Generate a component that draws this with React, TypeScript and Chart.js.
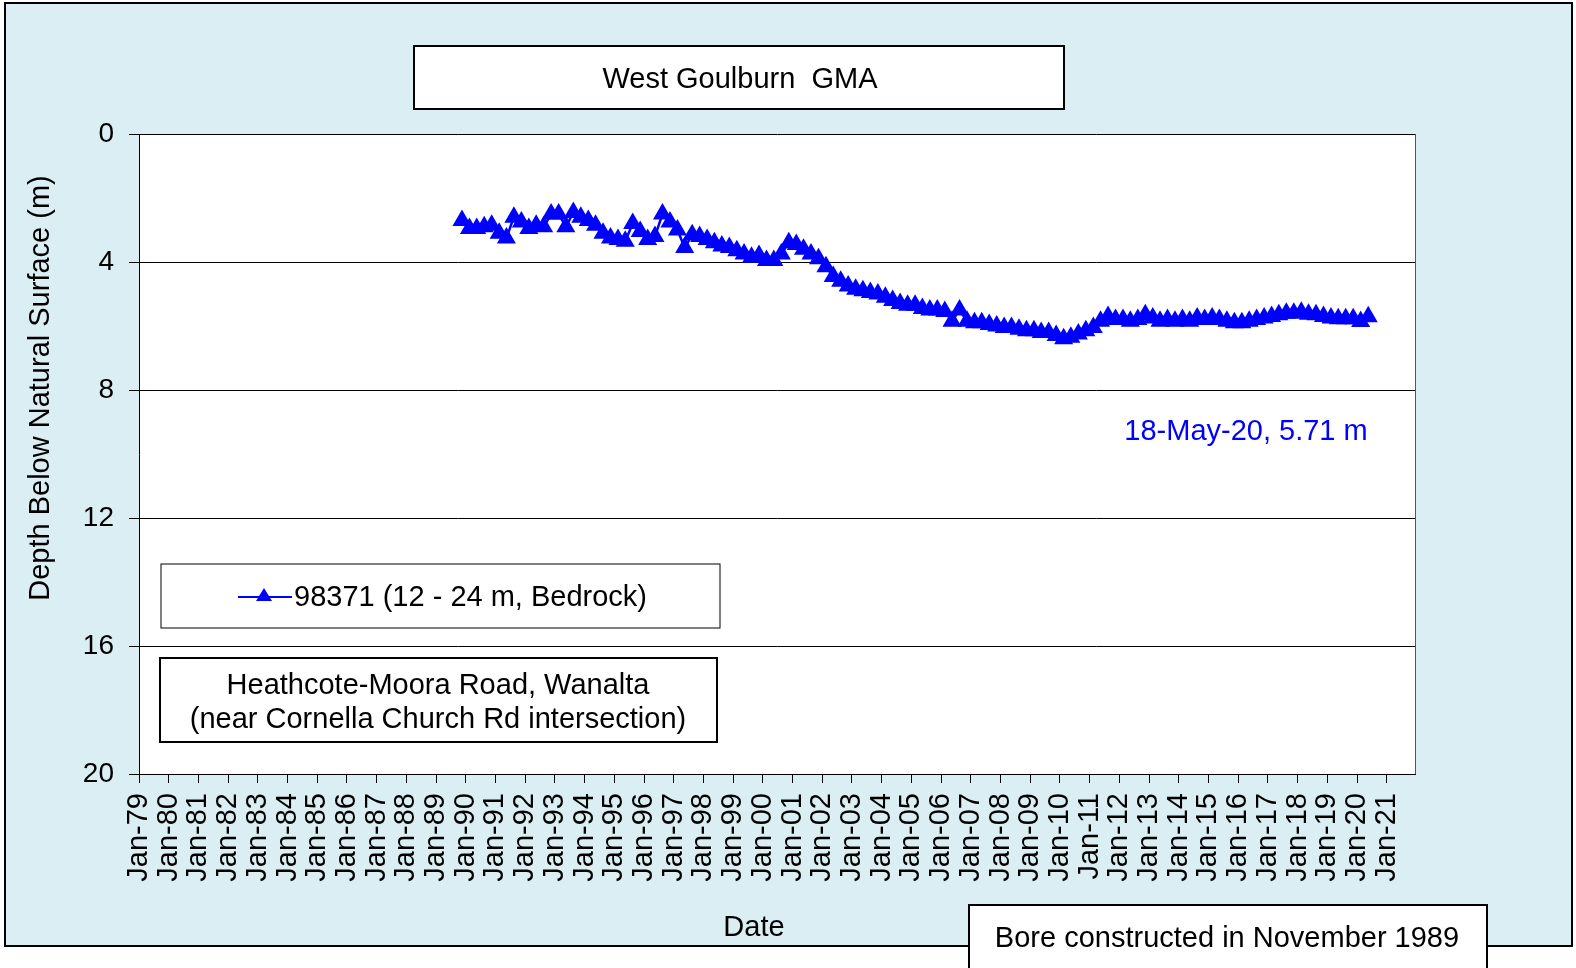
import React, { useEffect, useRef } from "react";
import { Chart, registerables } from "chart.js";

Chart.register(...registerables);

// ---- Data ----
const sampleDates: string[] = [
  "1989-11-15", "1990-02-15", "1990-05-15", "1990-08-15", "1990-11-15",
  "1991-02-15", "1991-05-15", "1991-08-15", "1991-11-15",
  "1992-02-15", "1992-05-15", "1992-08-15", "1992-11-15",
  "1993-02-15", "1993-05-15", "1993-08-15", "1993-11-15",
  "1994-02-15", "1994-05-15", "1994-08-15", "1994-11-15",
  "1995-02-15", "1995-05-15", "1995-08-15", "1995-11-15",
  "1996-02-15", "1996-05-15", "1996-08-15", "1996-11-15",
  "1997-02-15", "1997-05-15", "1997-08-15", "1997-11-15",
  "1998-02-15", "1998-05-15", "1998-08-15", "1998-11-15",
  "1999-02-15", "1999-05-15", "1999-08-15", "1999-11-15",
  "2000-02-15", "2000-05-15", "2000-08-15", "2000-11-15",
  "2001-02-15", "2001-05-15", "2001-08-15", "2001-11-15",
  "2002-02-15", "2002-05-15", "2002-08-15", "2002-11-15",
  "2003-02-15", "2003-05-15", "2003-08-15", "2003-11-15",
  "2004-02-15", "2004-05-15", "2004-08-15", "2004-11-15",
  "2005-02-15", "2005-05-15", "2005-08-15", "2005-11-15",
  "2006-02-15", "2006-05-15", "2006-08-15", "2006-11-15",
  "2007-02-15", "2007-05-15", "2007-08-15", "2007-11-15",
  "2008-02-15", "2008-05-15", "2008-08-15", "2008-11-15",
  "2009-02-15", "2009-05-15", "2009-08-15", "2009-11-15",
  "2010-02-15", "2010-05-15", "2010-08-15", "2010-11-15",
  "2011-02-15", "2011-05-15", "2011-08-15", "2011-11-15",
  "2012-02-15", "2012-05-15", "2012-08-15", "2012-11-15",
  "2013-02-15", "2013-05-15", "2013-08-15", "2013-11-15",
  "2014-02-15", "2014-05-15", "2014-08-15", "2014-11-15",
  "2015-02-15", "2015-05-15", "2015-08-15", "2015-11-15",
  "2016-02-15", "2016-05-15", "2016-08-15", "2016-11-15",
  "2017-02-15", "2017-05-15", "2017-08-15", "2017-11-15",
  "2018-02-15", "2018-05-15", "2018-08-15", "2018-11-15",
  "2019-02-15", "2019-05-15", "2019-08-15", "2019-11-15",
  "2020-02-15", "2020-05-18",
];

const depthBelowSurface: number[] = [
  2.7, 2.95, 2.95, 2.9, 2.85,
  3.1, 3.25, 2.6, 2.75,
  2.95, 2.85, 2.9, 2.5,
  2.5, 2.9, 2.45, 2.6,
  2.7, 2.85, 3.1, 3.25,
  3.3, 3.35, 2.8, 3.05,
  3.3, 3.2, 2.5, 2.75,
  3.0, 3.55, 3.15, 3.2,
  3.3, 3.4, 3.5, 3.55,
  3.65, 3.75, 3.85, 3.8,
  3.95, 3.95, 3.75, 3.4,
  3.45, 3.6, 3.75, 3.9,
  4.15, 4.45, 4.6, 4.75,
  4.85, 4.9, 4.95, 5.0,
  5.1, 5.2, 5.3, 5.35,
  5.35, 5.45, 5.5, 5.5,
  5.55, 5.85, 5.5, 5.85,
  5.9, 5.9, 5.95, 6.0,
  6.05, 6.05, 6.1, 6.15,
  6.15, 6.2, 6.2, 6.3,
  6.4, 6.35, 6.25, 6.15,
  6.05, 5.85, 5.7, 5.8,
  5.8, 5.85, 5.8, 5.65,
  5.75, 5.85, 5.8, 5.85,
  5.8, 5.85, 5.75, 5.8,
  5.75, 5.8, 5.85, 5.9,
  5.9, 5.85, 5.8, 5.75,
  5.7, 5.65, 5.6, 5.6,
  5.57, 5.63, 5.65, 5.7,
  5.75, 5.77, 5.77, 5.77,
  5.86, 5.71,
];

const tickYears: number[] = [
  1979, 1980, 1981, 1982, 1983, 1984, 1985, 1986, 1987, 1988,
  1989, 1990, 1991, 1992, 1993, 1994, 1995, 1996, 1997, 1998,
  1999, 2000, 2001, 2002, 2003, 2004, 2005, 2006, 2007, 2008,
  2009, 2010, 2011, 2012, 2013, 2014, 2015, 2016, 2017, 2018,
  2019, 2020, 2021,
];

const depthTicks: number[] = [0, 4, 8, 12, 16, 20];

const seriesName = "98371 (12 - 24 m, Bedrock)";
const chartTitle = "West Goulburn  GMA";
const locationLines = ["Heathcote-Moora Road, Wanalta", "(near Cornella Church Rd intersection)"];
const boreNote = "Bore constructed in November 1989";
const lastReading = "18-May-20, 5.71 m";
const yTitle = "Depth Below Natural Surface (m)";
const xTitle = "Date";

const axisMin = "1979-01-01";
const axisMax = "2021-12-14";

// ---- Layout constants ----
const W = 1576;
const H = 968;
const FONT = "'Liberation Sans', Arial, sans-serif";
const BLUE = "#0000FF";
const PANEL = "#DAEEF3";

const toMs = (d: string) => Date.parse(d + "T00:00:00Z");

function drawBox(ctx: CanvasRenderingContext2D, x: number, y: number, w: number, h: number, lw: number) {
  ctx.fillStyle = "#ffffff";
  ctx.fillRect(x, y, w, h);
  ctx.strokeStyle = "#000000";
  ctx.lineWidth = lw;
  ctx.strokeRect(x, y, w, h);
}

const decorPlugin = {
  id: "decor",
  beforeDraw(chart: any) {
    const ctx: CanvasRenderingContext2D = chart.ctx;
    const { left, top, right, bottom } = chart.chartArea;
    ctx.save();
    ctx.fillStyle = "#ffffff";
    ctx.fillRect(0, 0, W, H);
    ctx.fillStyle = PANEL;
    ctx.fillRect(5, 3, 1567, 943);
    ctx.strokeStyle = "#000000";
    ctx.lineWidth = 2;
    ctx.strokeRect(5, 3, 1567, 943);
    ctx.fillStyle = "#ffffff";
    ctx.fillRect(left, top, right - left, bottom - top);
    ctx.restore();
  },
  afterDraw(chart: any) {
    const ctx: CanvasRenderingContext2D = chart.ctx;
    const { top, right, bottom } = chart.chartArea;
    ctx.save();
    // right border of plot area
    ctx.strokeStyle = "#555555";
    ctx.lineWidth = 1;
    ctx.beginPath();
    ctx.moveTo(right + 0.5, top);
    ctx.lineTo(right + 0.5, bottom);
    ctx.stroke();

    ctx.textBaseline = "middle";
    ctx.font = `29px ${FONT}`;

    // Title box
    drawBox(ctx, 414, 46, 650, 63, 2);
    ctx.fillStyle = "#000";
    ctx.textAlign = "center";
    ctx.fillText(chartTitle, 740, 80);

    // Legend box
    drawBox(ctx, 161, 564, 559, 64, 1);
    ctx.strokeStyle = BLUE;
    ctx.lineWidth = 2;
    ctx.beginPath();
    ctx.moveTo(238, 597);
    ctx.lineTo(292, 597);
    ctx.stroke();
    ctx.fillStyle = BLUE;
    ctx.beginPath();
    ctx.moveTo(264, 588);
    ctx.lineTo(272, 601);
    ctx.lineTo(256, 601);
    ctx.closePath();
    ctx.fill();
    ctx.fillStyle = "#000";
    ctx.textAlign = "left";
    ctx.fillText(seriesName, 294, 598);

    // Location box
    drawBox(ctx, 160, 658, 557, 84, 2);
    ctx.fillStyle = "#000";
    ctx.textAlign = "center";
    ctx.fillText(locationLines[0], 438, 686);
    ctx.fillText(locationLines[1], 438, 720);

    // Last reading annotation
    ctx.fillStyle = BLUE;
    ctx.fillText(lastReading, 1246, 432);

    // Axis titles
    ctx.fillStyle = "#000";
    ctx.fillText(xTitle, 754, 928);
    ctx.save();
    ctx.translate(41, 388);
    ctx.rotate(-Math.PI / 2);
    ctx.fillText(yTitle, 0, 0);
    ctx.restore();

    // Bore note box (overlaps outer border)
    drawBox(ctx, 969, 905, 518, 66, 2);
    ctx.fillStyle = "#000";
    ctx.textAlign = "center";
    ctx.fillText(boreNote, 1227, 939);

    ctx.restore();
  },
};

export default function App() {
  const canvasRef = useRef<HTMLCanvasElement | null>(null);

  useEffect(() => {
    document.body.style.margin = "0";
    const canvas = canvasRef.current;
    if (!canvas) return;
    const points = sampleDates.map((d, i) => ({ x: toMs(d), y: depthBelowSurface[i] }));

    const chart = new Chart(canvas, {
      type: "line",
      data: {
        datasets: [
          {
            label: seriesName,
            data: points,
            borderColor: BLUE,
            backgroundColor: BLUE,
            borderWidth: 2.5,
            pointStyle: "triangle",
            pointRadius: 9,
            pointBorderWidth: 2,
            pointBackgroundColor: BLUE,
            pointBorderColor: BLUE,
            tension: 0,
          },
        ],
      },
      options: {
        animation: false,
        responsive: false,
        maintainAspectRatio: false,
        devicePixelRatio: 1,
        layout: { padding: { left: 0, top: 134, right: 161, bottom: 0 } },
        plugins: {
          legend: { display: false },
          tooltip: { enabled: false },
          title: { display: false },
        },
        scales: {
          x: {
            type: "linear",
            min: toMs(axisMin),
            max: toMs(axisMax),
            afterBuildTicks: (scale: any) => {
              scale.ticks = tickYears.map((y) => ({ value: Date.UTC(y, 0, 1) }));
            },
            afterFit: (scale: any) => {
              scale.height = H - 774;
            },
            grid: {
              display: true,
              drawOnChartArea: false,
              drawTicks: true,
              tickLength: 9,
              color: "#000",
              lineWidth: 1,
            },
            border: { display: true, color: "#000", width: 1 },
            ticks: {
              autoSkip: false,
              maxRotation: 90,
              minRotation: 90,
              padding: 10,
              color: "#000",
              font: { family: FONT, size: 29 },
              callback: (v: any) => {
                const d = new Date(Number(v));
                return "Jan-" + String(d.getUTCFullYear() % 100).padStart(2, "0");
              },
            },
          },
          y: {
            type: "linear",
            reverse: true,
            min: 0,
            max: 20,
            afterBuildTicks: (scale: any) => {
              scale.ticks = depthTicks.map((v) => ({ value: v }));
            },
            afterFit: (scale: any) => {
              scale.width = 139;
            },
            grid: {
              display: true,
              drawOnChartArea: true,
              drawTicks: true,
              tickLength: 10,
              color: "#000",
              lineWidth: 1,
            },
            border: { display: true, color: "#000", width: 1 },
            ticks: {
              padding: 15,
              color: "#000",
              font: { family: FONT, size: 28 },
              callback: (v: any) => String(v),
            },
          },
        },
      },
      plugins: [decorPlugin],
    } as any);

    return () => chart.destroy();
  }, []);

  return (
    <div style={{ position: "absolute", left: 0, top: 0, width: W, height: H }}>
      <canvas ref={canvasRef} width={W} height={H} style={{ width: W, height: H, display: "block" }} />
    </div>
  );
}
